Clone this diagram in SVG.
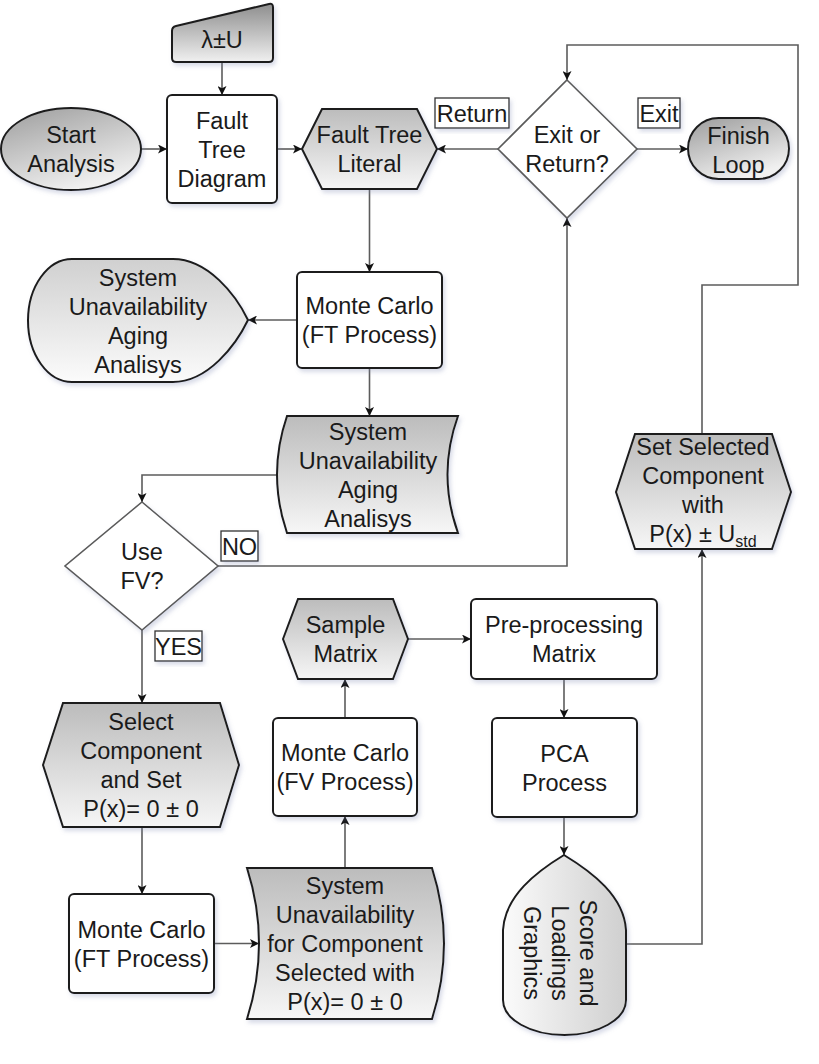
<svg xmlns="http://www.w3.org/2000/svg" width="819" height="1064" viewBox="0 0 819 1064">
<defs>
<linearGradient id="gGray" x1="0" y1="0" x2="0" y2="1"><stop offset="0" stop-color="#bcbcbc"/><stop offset="1" stop-color="#f6f6f6"/></linearGradient>
<linearGradient id="gDark" x1="0" y1="0" x2="0" y2="1"><stop offset="0" stop-color="#8e8e8e"/><stop offset="1" stop-color="#f0f0f0"/></linearGradient>
<linearGradient id="gOval" x1="0" y1="0" x2="0.5" y2="1"><stop offset="0" stop-color="#9c9c9c"/><stop offset="1" stop-color="#f0f0f0"/></linearGradient>
<linearGradient id="gLight" x1="0" y1="0" x2="0" y2="1"><stop offset="0" stop-color="#d0d0d0"/><stop offset="1" stop-color="#fbfbfb"/></linearGradient>
<linearGradient id="gSide" x1="1" y1="0" x2="0" y2="0"><stop offset="0" stop-color="#cfcfcf"/><stop offset="1" stop-color="#fbfbfb"/></linearGradient>
<filter id="sh" x="-10%" y="-10%" width="130%" height="130%"><feDropShadow dx="2" dy="3" stdDeviation="2" flood-color="#7f88b0" flood-opacity="0.3"/></filter>
<marker id="arr" viewBox="0 0 10 10" refX="10" refY="5" markerWidth="9" markerHeight="9" markerUnits="userSpaceOnUse" orient="auto"><path d="M0,0 L10,5 L0,10 L2.5,5 Z" fill="#111"/></marker>
<style>
.node{stroke:#1e1e1e;stroke-width:2;filter:url(#sh)}
.dec{fill:#fff;stroke:#5a5a5a;stroke-width:1.6;filter:url(#sh)}
.lbl{fill:#fff;stroke:#333;stroke-width:1.3;filter:url(#sh)}
.t{font-family:"Liberation Sans",Arial,sans-serif;font-size:23.5px;fill:#1a1a1a;text-anchor:middle}
.c{fill:none;stroke:#5c5c5c;stroke-width:1.6}
</style>
</defs>
<rect width="819" height="1064" fill="#fff"/>

<g id="connectors">
<path class="c" d="M222,62 V95" marker-end="url(#arr)"/>
<path class="c" d="M141,149 H167" marker-end="url(#arr)"/>
<path class="c" d="M277,149 H302" marker-end="url(#arr)"/>
<path class="c" d="M498,149 H437" marker-end="url(#arr)"/>
<path class="c" d="M637,149 H688" marker-end="url(#arr)"/>
<path class="c" d="M369.5,189 V272" marker-end="url(#arr)"/>
<path class="c" d="M297,320 H248" marker-end="url(#arr)"/>
<path class="c" d="M369.5,368 V416" marker-end="url(#arr)"/>
<path class="c" d="M278,475 H142 V502" marker-end="url(#arr)"/>
<path class="c" d="M218,566 H567 V218" marker-end="url(#arr)"/>
<path class="c" d="M142,630 V703" marker-end="url(#arr)"/>
<path class="c" d="M142,827 V894" marker-end="url(#arr)"/>
<path class="c" d="M214,943.5 H259" marker-end="url(#arr)"/>
<path class="c" d="M345,868 V816" marker-end="url(#arr)"/>
<path class="c" d="M345,718 V679" marker-end="url(#arr)"/>
<path class="c" d="M408,639 H471" marker-end="url(#arr)"/>
<path class="c" d="M564,679 V718" marker-end="url(#arr)"/>
<path class="c" d="M564,817 V855" marker-end="url(#arr)"/>
<path class="c" d="M626,944 H702 V549" marker-end="url(#arr)"/>
<path class="c" d="M702,434 V285 H798 V45 H567 V80" marker-end="url(#arr)"/>
</g>

<g id="input">
<path class="node" fill="url(#gDark)" d="M172,31 Q172,27 176,26 L269,4 Q273,3 273,7 L273,58 Q273,62 269,62 L176,62 Q172,62 172,58 Z"/>
<text class="t" x="222" y="48">λ±U</text>
</g>

<g id="start">
<ellipse class="node" fill="url(#gOval)" cx="71" cy="149" rx="70" ry="41"/>
<text class="t" x="71" y="143">Start</text>
<text class="t" x="71" y="172">Analysis</text>
</g>

<g id="ftd">
<rect class="node" fill="#fff" x="167" y="95" width="110" height="108" rx="5"/>
<text class="t" x="222" y="128.5">Fault</text>
<text class="t" x="222" y="157.5">Tree</text>
<text class="t" x="222" y="186.5">Diagram</text>
</g>

<g id="ftl">
<polygon class="node" fill="url(#gGray)" points="302,149 322,109 417,109 437,149 417,189 322,189"/>
<text class="t" x="369.5" y="143">Fault Tree</text>
<text class="t" x="369.5" y="172">Literal</text>
</g>

<g id="lblReturn">
<rect class="lbl" x="435" y="98" width="74" height="30"/>
<text class="t" x="472" y="121.5">Return</text>
</g>

<g id="exitReturn">
<polygon class="dec" points="567,80 637,149 567,218 498,149"/>
<text class="t" x="567" y="143">Exit or</text>
<text class="t" x="567" y="172">Return?</text>
</g>

<g id="lblExit">
<rect class="lbl" x="638" y="98" width="42" height="30"/>
<text class="t" x="659" y="121.5">Exit</text>
</g>

<g id="finish">
<rect class="node" fill="url(#gOval)" x="688" y="118" width="101" height="61" rx="30.5"/>
<text class="t" x="738.5" y="144">Finish</text>
<text class="t" x="738.5" y="173">Loop</text>
</g>

<g id="mc1">
<rect class="node" fill="#fff" x="297" y="272" width="145" height="96" rx="5"/>
<text class="t" x="369.5" y="314">Monte Carlo</text>
<text class="t" x="369.5" y="343">(FT Process)</text>
</g>

<g id="display1">
<path class="node" fill="url(#gLight)" d="M72,259 L173,259 C208,259 236,295 248,320 C236,345 208,382 173,382 L72,382 A44,61.5 0 0 1 72,259 Z"/>
<text class="t" x="138" y="286">System</text>
<text class="t" x="138" y="315">Unavailability</text>
<text class="t" x="138" y="344">Aging</text>
<text class="t" x="138" y="373">Analisys</text>
</g>

<g id="stored1">
<path class="node" fill="url(#gGray)" d="M287,416 L458,416 Q437,474.5 458,533 L287,533 Q267,474.5 287,416 Z"/>
<text class="t" x="368" y="440">System</text>
<text class="t" x="368" y="469">Unavailability</text>
<text class="t" x="368" y="498">Aging</text>
<text class="t" x="368" y="527">Analisys</text>
</g>

<g id="useFV">
<polygon class="dec" points="142,502 218,566 142,630 65,566"/>
<text class="t" x="142" y="560">Use</text>
<text class="t" x="142" y="589">FV?</text>
</g>

<g id="lblNo">
<rect class="lbl" x="221" y="531" width="37" height="30"/>
<text class="t" x="239.5" y="554.5">NO</text>
</g>

<g id="lblYes">
<rect class="lbl" x="155" y="631" width="47" height="30"/>
<text class="t" x="178.5" y="654.5">YES</text>
</g>

<g id="select">
<polygon class="node" fill="url(#gGray)" points="43,765 63,703 220,703 239,765 220,827 63,827"/>
<text class="t" x="141" y="730">Select</text>
<text class="t" x="141" y="759">Component</text>
<text class="t" x="141" y="788">and Set</text>
<text class="t" x="141" y="817">P(x)= 0 ± 0</text>
</g>

<g id="mc2">
<rect class="node" fill="#fff" x="69" y="894" width="145" height="99" rx="5"/>
<text class="t" x="141.5" y="937.5">Monte Carlo</text>
<text class="t" x="141.5" y="966.5">(FT Process)</text>
</g>

<g id="stored2">
<path class="node" fill="url(#gGray)" d="M247,868 L432,868 Q456,943.5 432,1019 L247,1019 Q271,943.5 247,868 Z"/>
<text class="t" x="345" y="893.5">System</text>
<text class="t" x="345" y="922.5">Unavailability</text>
<text class="t" x="345" y="951.5">for Component</text>
<text class="t" x="345" y="980.5">Selected with</text>
<text class="t" x="345" y="1009.5">P(x)= 0 ± 0</text>
</g>

<g id="mc3">
<rect class="node" fill="#fff" x="273" y="718" width="144" height="98" rx="5"/>
<text class="t" x="345" y="761">Monte Carlo</text>
<text class="t" x="345" y="790">(FV Process)</text>
</g>

<g id="sample">
<polygon class="node" fill="url(#gGray)" points="283,639 298,599 393,599 408,639 393,679 298,679"/>
<text class="t" x="345.5" y="633">Sample</text>
<text class="t" x="345.5" y="662">Matrix</text>
</g>

<g id="pre">
<rect class="node" fill="#fff" x="471" y="599" width="186" height="80" rx="5"/>
<text class="t" x="564" y="633">Pre-processing</text>
<text class="t" x="564" y="662">Matrix</text>
</g>

<g id="pca">
<rect class="node" fill="#fff" x="492" y="718" width="145" height="99" rx="5"/>
<text class="t" x="564.5" y="761.5">PCA</text>
<text class="t" x="564.5" y="790.5">Process</text>
</g>

<g id="score">
<path class="node" fill="url(#gSide)" d="M564,855 C592,872 624,896 626,930 L626,1000 A61.5,35 0 0 1 503,1000 L503,930 C505,896 536,872 564,855 Z"/>
<g transform="translate(560,953) rotate(90)">
<text class="t" x="0" y="-19.5">Score and</text>
<text class="t" x="0" y="8.5">Loadings</text>
<text class="t" x="0" y="36.5">Graphics</text>
</g>
</g>

<g id="setSelected">
<polygon class="node" fill="url(#gGray)" points="616,492 635,434 772,434 791,492 772,549 635,549"/>
<text class="t" x="703" y="455">Set Selected</text>
<text class="t" x="703" y="484">Component</text>
<text class="t" x="703" y="513">with</text>
<text class="t" x="703" y="542">P(x) ± U<tspan font-size="16" dy="5">std</tspan></text>
</g>
</svg>
